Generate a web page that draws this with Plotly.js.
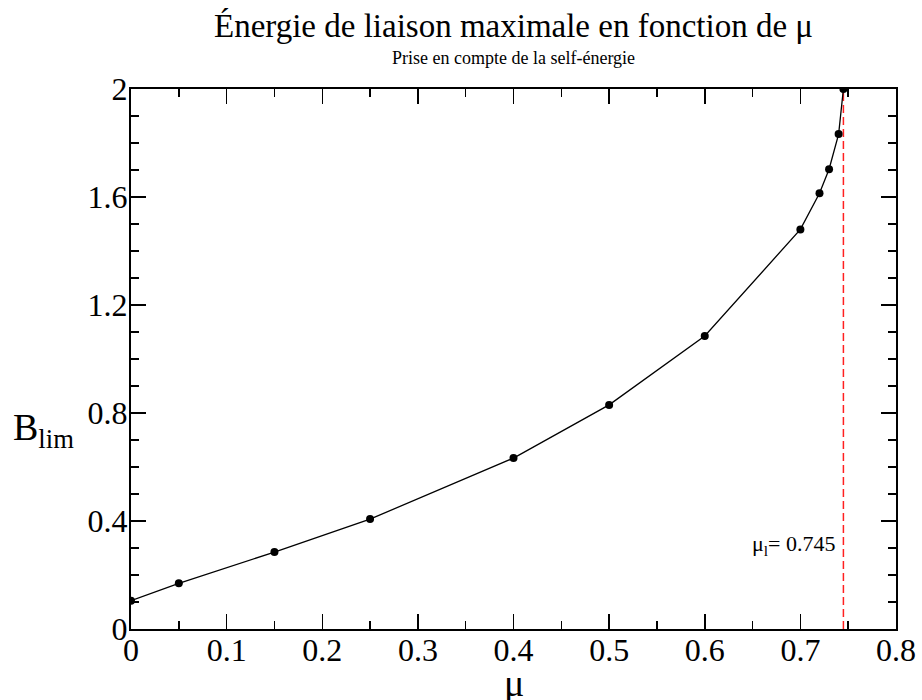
<!DOCTYPE html>
<html>
<head>
<meta charset="utf-8">
<script src="https://cdn.plot.ly/plotly-3.0.1.min.js"></script>
<style>body{margin:0;background:#fff}#chart{width:922px;height:700px}</style>
</head>
<body>
<div id="chart"></div>
<script>
const mu = [0, 0.05, 0.15, 0.25, 0.4, 0.5, 0.6, 0.7, 0.72, 0.73, 0.74, 0.745];
const Blim = [0.105, 0.169, 0.285, 0.407, 0.633, 0.83, 1.085, 1.48, 1.614, 1.703, 1.833, 2.0];
const muLimit = 0.745;
const limitY = [0, 2];
const titleText = "Énergie de liaison maximale en fonction de μ";
const subtitleText = "Prise en compte de la self-énergie";
const limitLabel = "μ<sub>l</sub>= 0.745";

const serif = 'Liberation Serif';

const traces = [
  {x: [muLimit, muLimit], y: limitY, mode: 'lines', line: {color: '#ff2020', width: 1.5, dash: '8px,4px'}, hoverinfo: 'skip'},
  {x: mu, y: Blim, mode: 'lines+markers', line: {color: '#000', width: 1.3}, marker: {color: '#000', size: 8}}
];

const axisCommon = {
  showgrid: false, zeroline: false, showline: true, linecolor: '#000', linewidth: 2,
  mirror: 'ticks', ticks: 'inside', ticklen: 15, tickwidth: 1.5, tickcolor: '#000',
  tickfont: {family: serif, size: 32, color: '#000'}
};

const layout = {
  width: 922, height: 700,
  margin: {l: 131, r: 26, t: 89, b: 71},
  paper_bgcolor: '#fff', plot_bgcolor: '#fff',
  showlegend: false,
  font: {family: serif, color: '#000'},
  title: {
    text: titleText,
    font: {family: serif, size: 33, color: '#000'},
    x: 0.5, xref: 'paper', xanchor: 'center',
    y: 0.964, yref: 'container', yanchor: 'middle'
  },
  xaxis: Object.assign({}, axisCommon, {
    range: [0, 0.8], dtick: 0.1, tick0: 0, ticklabelstandoff: -8,
    minor: {ticks: 'inside', dtick: 0.05, ticklen: 8, tickwidth: 1.5, tickcolor: '#000'}
  }),
  yaxis: Object.assign({}, axisCommon, {
    range: [0, 2], dtick: 0.4, tick0: 0, ticklabelstandoff: -5,
    minor: {ticks: 'inside', dtick: 0.1, ticklen: 8, tickwidth: 1.5, tickcolor: '#000'}
  }),
  annotations: [
    {xref: 'paper', yref: 'paper', x: 0.5, y: (629 - 58) / 540, xanchor: 'center', yanchor: 'middle',
     text: subtitleText, showarrow: false, font: {family: serif, size: 18, color: '#000'}},
    {xref: 'paper', yref: 'paper', x: 0.5, y: (629 - 683) / 540, xanchor: 'center', yanchor: 'middle',
     text: 'μ', showarrow: false, font: {family: serif, size: 38, color: '#000'}},
    {xref: 'paper', yref: 'paper', x: -0.157, y: (629 - 430) / 540, xanchor: 'left', yanchor: 'middle',
     text: 'B<sub>lim</sub>', showarrow: false, font: {family: serif, size: 38, color: '#000'}},
    {xref: 'x', yref: 'y', x: 0.7395, y: 0.31, xanchor: 'right', yanchor: 'middle',
     text: limitLabel, showarrow: false, font: {family: serif, size: 22, color: '#000'}}
  ]
};

Plotly.newPlot('chart', traces, layout, {displayModeBar: false, staticPlot: true});
</script>
</body>
</html>
